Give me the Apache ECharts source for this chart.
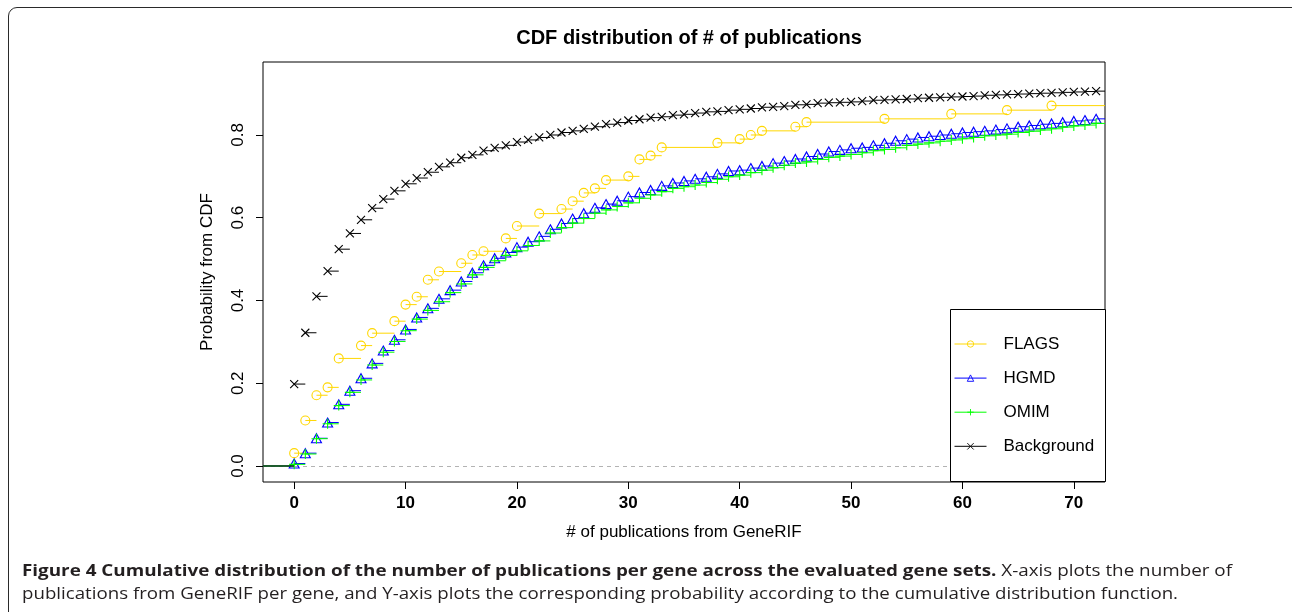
<!DOCTYPE html>
<html>
<head>
<meta charset="utf-8">
<script src="https://cdn.jsdelivr.net/npm/echarts@6/dist/echarts.min.js"></script>
<style>
html,body{margin:0;padding:0;background:#fff;}
#wrap{position:relative;width:1292px;height:612px;overflow:hidden;background:#fff;}
#chart{position:absolute;left:0;top:0;width:1292px;height:612px;}
#frame{position:absolute;left:8px;top:7px;width:1300px;height:640px;border:1.6px solid #2a2a2a;border-radius:9px;pointer-events:none;box-sizing:border-box;}
.cap{position:absolute;left:22px;font-family:'Open Sans',sans-serif;font-size:16.5px;line-height:22px;height:22px;color:#231f20;transform-origin:0 50%;white-space:nowrap;}
.cap b{font-weight:700;}
</style>
</head>
<body>
<div id="wrap">
  <div id="chart"></div>
  <div id="frame"></div>
  <div class="cap" id="cap1" style="top:559px;"><b>Figure 4 Cumulative distribution of the number of publications per gene across the evaluated gene sets.</b> X-axis plots the number of</div>
  <div class="cap" id="cap2" style="top:582px;">publications from GeneRIF per gene, and Y-axis plots the corresponding probability according to the cumulative distribution function.</div>
</div>
<script>
// ---- data ----
const xTickValues = [0, 10, 20, 30, 40, 50, 60, 70];
const yTickValues = [0, 0.2, 0.4, 0.6, 0.8];

const flagsX = [0,1,2,3,4,6,7,9,10,11,12,13,15,16,17,19,20,22,24,25,26,27,28,30,31,32,33,38,40,41,42,45,46,53,59,64,68];
const flagsY = [0.031,0.110,0.171,0.190,0.260,0.291,0.321,0.350,0.390,0.409,0.450,0.470,0.490,0.510,0.519,0.550,0.580,0.610,0.621,0.640,0.660,0.671,0.691,0.700,0.741,0.750,0.770,0.781,0.790,0.800,0.810,0.820,0.831,0.839,0.851,0.860,0.871];

const countsX = [0,1,2,3,4,5,6,7,8,9,10,11,12,13,14,15,16,17,18,19,20,21,22,23,24,25,26,27,28,29,30,31,32,33,34,35,36,37,38,39,40,41,42,43,44,45,46,47,48,49,50,51,52,53,54,55,56,57,58,59,60,61,62,63,64,65,66,67,68,69,70,71,72];

const hgmdY = [0.006,0.031,0.067,0.105,0.149,0.182,0.212,0.248,0.279,0.305,0.330,0.359,0.381,0.404,0.425,0.446,0.467,0.485,0.502,0.516,0.529,0.542,0.555,0.572,0.586,0.598,0.611,0.624,0.633,0.641,0.651,0.661,0.667,0.677,0.684,0.689,0.694,0.699,0.706,0.713,0.715,0.720,0.725,0.732,0.737,0.742,0.748,0.754,0.760,0.764,0.768,0.770,0.775,0.780,0.786,0.790,0.794,0.797,0.800,0.803,0.806,0.808,0.810,0.813,0.816,0.820,0.823,0.826,0.828,0.831,0.834,0.836,0.839];

const omimY = [0.004,0.029,0.066,0.102,0.146,0.178,0.208,0.244,0.275,0.301,0.327,0.355,0.376,0.397,0.419,0.440,0.462,0.480,0.496,0.509,0.520,0.533,0.544,0.563,0.576,0.587,0.598,0.611,0.619,0.627,0.636,0.647,0.655,0.663,0.671,0.675,0.679,0.685,0.693,0.699,0.703,0.709,0.715,0.721,0.727,0.732,0.735,0.741,0.746,0.749,0.753,0.757,0.762,0.765,0.769,0.775,0.778,0.781,0.785,0.788,0.791,0.794,0.798,0.800,0.802,0.806,0.809,0.812,0.815,0.819,0.822,0.824,0.828];

const backgroundY = [0.198,0.322,0.410,0.471,0.524,0.562,0.595,0.623,0.645,0.665,0.682,0.696,0.710,0.723,0.733,0.745,0.752,0.762,0.769,0.775,0.783,0.788,0.794,0.800,0.806,0.810,0.815,0.820,0.826,0.830,0.835,0.838,0.842,0.844,0.848,0.850,0.853,0.856,0.857,0.860,0.862,0.864,0.867,0.868,0.870,0.873,0.874,0.877,0.878,0.879,0.880,0.882,0.884,0.885,0.886,0.887,0.889,0.890,0.891,0.892,0.893,0.894,0.896,0.897,0.898,0.899,0.900,0.901,0.902,0.903,0.904,0.905,0.906];

const seriesNames = ['FLAGS', 'HGMD', 'OMIM', 'Background'];

// ---- layout / style ----
const X_MIN = -2.8, X_MAX = 72.8;
const Y_MIN = -0.0387, Y_MAX = 0.9764;
const FONT = "'Liberation Sans', Arial, Helvetica, sans-serif";

// ecdf step segments (no vertical risers), markers at jump points
function buildSteps(xs, ys) {
  const d = [{value: [X_MIN, 0], symbol: 'none'}, {value: [xs[0], 0], symbol: 'none'}];
  for (let i = 0; i < xs.length; i++) {
    const xe = i < xs.length - 1 ? xs[i + 1] : X_MAX;
    d.push({value: [xs[i], '-'], symbol: 'none'});
    d.push({value: [xs[i], ys[i]]});
    d.push({value: [xe, ys[i]], symbol: 'none'});
  }
  return d;
}

const SYM_CIRCLE = 'path://M10,5A5,5,0,1,1,0,5A5,5,0,1,1,10,5Z';
const SYM_TRI = 'path://M5,0L10,8.66L0,8.66Z';
const SYM_PLUS = 'path://M0,5L10,5M5,0L5,10';
const SYM_X = 'path://M0,0L10,10M10,0L0,10';

function mkSeries(name, xs, ys, color, symbol, size, z) {
  return {
    name: name,
    type: 'line',
    data: buildSteps(xs, ys),
    color: color,
    symbol: symbol,
    symbolSize: size,
    showAllSymbol: true,
    connectNulls: false,
    animation: false,
    z: z,
    lineStyle: {color: color, width: 1},
    itemStyle: {color: 'rgba(0,0,0,0)', borderColor: color, borderWidth: 1.1},
    emphasis: {disabled: true}
  };
}

const chart = echarts.init(document.getElementById('chart'), null, {renderer: 'canvas'});

const series = [
  mkSeries(seriesNames[0], flagsX, flagsY, '#FFD700', SYM_CIRCLE, 9, 2),
  mkSeries(seriesNames[1], countsX, hgmdY, '#0000FF', SYM_TRI, [10, 9], 3),
  mkSeries(seriesNames[2], countsX, omimY, '#00FF00', SYM_PLUS, 10, 4),
  mkSeries(seriesNames[3], countsX, backgroundY, '#000000', SYM_X, 8, 5)
];
series[0].markLine = {
  silent: true,
  symbol: 'none',
  label: {show: false},
  lineStyle: {color: '#b3b3b3', type: [4, 4], width: 1},
  data: [{yAxis: 0}],
  z: 1
};

chart.setOption({
  animation: false,
  backgroundColor: 'transparent',
  textStyle: {fontFamily: FONT},
  title: {
    text: 'CDF distribution of # of publications',
    left: 684,
    textAlign: 'center',
    top: 23,
    textStyle: {fontFamily: FONT, fontSize: 20, fontWeight: 'bold', color: '#000'}
  },
  grid: {
    left: 263, top: 62, width: 842, height: 420,
    show: true, borderColor: '#000', borderWidth: 1, backgroundColor: 'transparent',
    containLabel: false
  },
  xAxis: {
    type: 'value',
    min: X_MIN, max: X_MAX,
    axisLine: {show: false, onZero: false},
    splitLine: {show: false},
    axisTick: {show: true, customValues: xTickValues, length: 7, lineStyle: {color: '#000', width: 1}},
    axisLabel: {customValues: xTickValues, fontFamily: FONT, fontSize: 17, fontWeight: 'bold', color: '#000', margin: 13},
    name: '# of publications from GeneRIF',
    nameLocation: 'middle',
    nameGap: 42,
    nameTextStyle: {fontFamily: FONT, fontSize: 17, color: '#000'}
  },
  yAxis: {
    type: 'value',
    min: Y_MIN, max: Y_MAX,
    axisLine: {show: false, onZero: false},
    splitLine: {show: false},
    axisTick: {show: true, customValues: yTickValues, length: 7, lineStyle: {color: '#000', width: 1}},
    axisLabel: {customValues: yTickValues, rotate: 90, formatter: v => v.toFixed(1), fontFamily: FONT, fontSize: 17, color: '#000', margin: 16},
    name: 'Probability from CDF',
    nameLocation: 'middle',
    nameGap: 47,
    nameTextStyle: {fontFamily: FONT, fontSize: 17, color: '#000'}
  },
  legend: {
    data: seriesNames,
    orient: 'vertical',
    left: 954,
    top: 335.5,
    itemWidth: 32,
    itemHeight: 8,
    itemGap: 17.1,
    padding: 0,
    z: 100,
    selectedMode: false,
    itemStyle: {borderWidth: 0.9},
    lineStyle: {width: 1},
    textStyle: {fontFamily: FONT, fontSize: 17, color: '#000', padding: [0, 0, 0, 12]}
  },
  graphic: {
    elements: [{
      type: 'rect',
      z: 50,
      shape: {x: 950.5, y: 309.5, width: 155, height: 172},
      style: {fill: '#fff', stroke: '#000', lineWidth: 1}
    }]
  },
  series: series
});

// caption: each line fitted to the width it takes in the reference
(function () {
  [['cap1', 1210], ['cap2', 1156]].forEach(([id, target]) => {
    const el = document.getElementById(id);
    const w = el.getBoundingClientRect().width;
    el.style.transform = 'scaleX(' + (target / w) + ')';
  });
})();
</script>
</body>
</html>
